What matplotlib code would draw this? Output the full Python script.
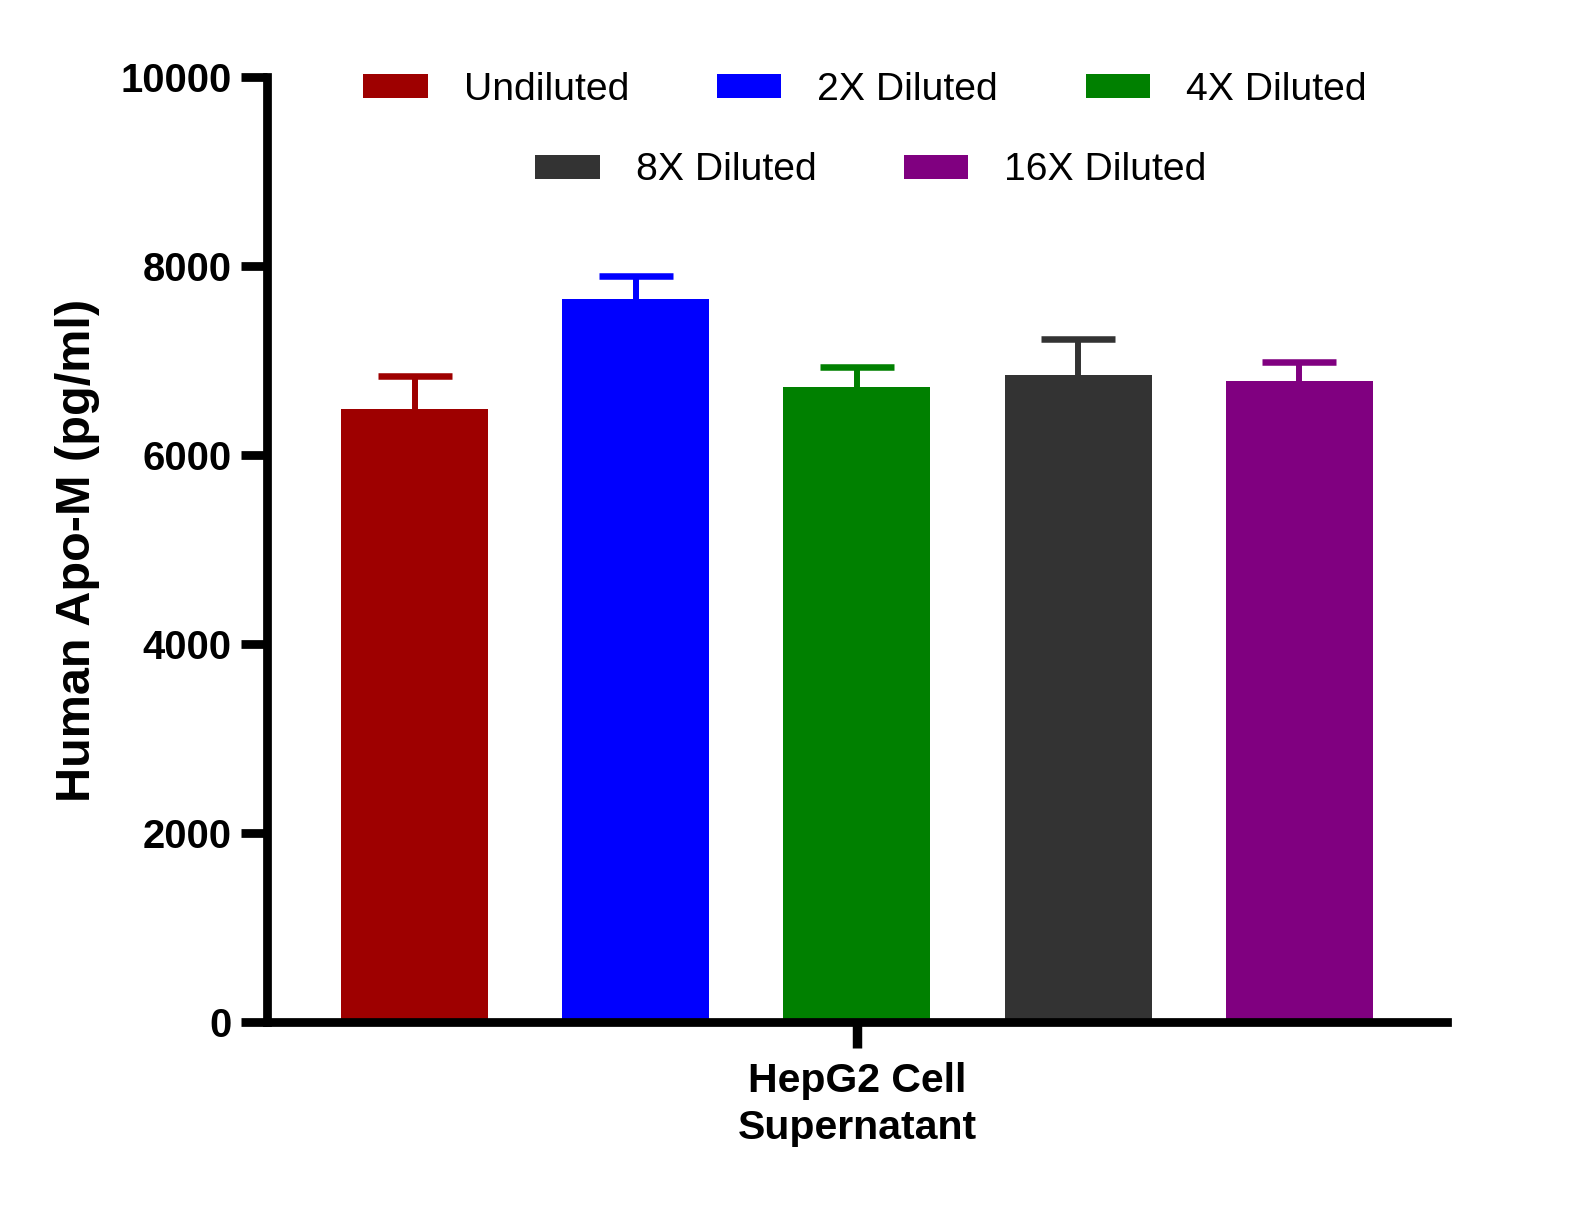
import numpy as np
import matplotlib.pyplot as plt

plt.rcParams['font.family'] = ['Liberation Sans', 'DejaVu Sans']

groups = ["Undiluted", "2X Diluted", "4X Diluted", "8X Diluted", "16X Diluted"]
means = [6490, 7655, 6725, 6850, 6790]
sem = [350, 245, 210, 380, 200]
colors = ["#9e0000", "#0000ff", "#008000", "#333333", "#800080"]
xlabel = "HepG2 Cell\nSupernatant"
ylabel = "Human Apo-M (pg/ml)"

fig = plt.figure(figsize=(15.79, 12.22), dpi=100)
ax = fig.add_axes([0.1691, 0.1633, 0.7476, 0.7733])

x = np.arange(len(groups))
bars = []
for i in range(len(groups)):
    # symmetric error bar drawn under the bar so only the upper half shows
    ax.errorbar(x[i], means[i], yerr=sem[i], fmt='none', ecolor=colors[i],
                elinewidth=4.3, capsize=26.3, capthick=4.7, zorder=1)
    b = ax.bar(x[i], means[i], width=0.664, color=colors[i], label=groups[i], zorder=2)
    bars.append(b)

ax.set_xlim(-0.667, 4.67)
ax.set_ylim(0, 10000)
ax.set_yticks(np.arange(0, 10001, 2000))
ax.set_xticks([2])
ax.set_xticklabels([xlabel], fontsize=29.5, fontweight='bold', linespacing=1.3)
ax.set_ylabel(ylabel, fontsize=35, fontweight='bold', labelpad=15)

for s in ['top', 'right']:
    ax.spines[s].set_visible(False)
for s in ['left', 'bottom']:
    ax.spines[s].set_linewidth(6.3)
ax.tick_params(axis='y', width=6.3, length=18.5, labelsize=28.8, pad=7)
ax.tick_params(axis='x', width=6.8, length=18.5, pad=10)
for lab in ax.get_yticklabels():
    lab.set_fontweight('bold')

leg_kw = dict(frameon=False, fontsize=28.2, handlelength=1.64, handleheight=0.56,
              handletextpad=0.92, columnspacing=2.24, borderaxespad=0,
              borderpad=0)
leg1 = fig.legend(bars[:3], groups[:3], ncol=3, loc='center',
                  bbox_to_anchor=(865 / 1579, 1 - 90 / 1222), **leg_kw)
leg2 = fig.legend(bars[3:], groups[3:], ncol=2, loc='center',
                  bbox_to_anchor=(871 / 1579, 1 - 170.5 / 1222), **leg_kw)

fig.savefig("out.png", dpi=100)
